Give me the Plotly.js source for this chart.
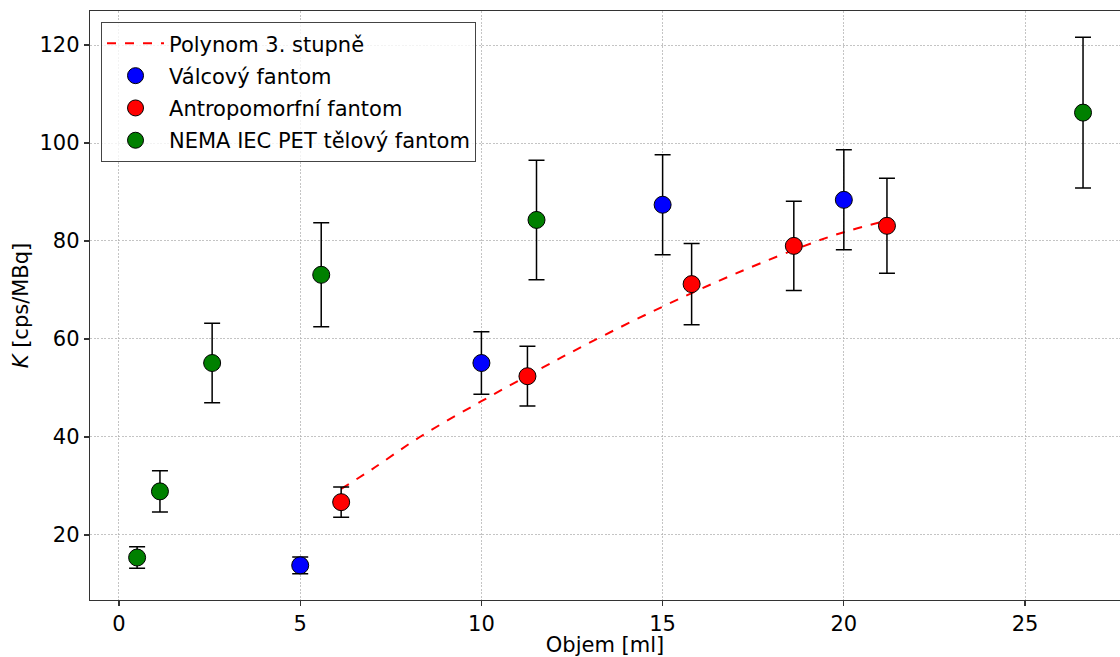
<!DOCTYPE html>
<html>
<head>
<meta charset="utf-8">
<script src="https://cdn.plot.ly/plotly-3.0.1.min.js"></script>
<style>html,body{margin:0;padding:0;background:#fff}#chart{width:1120px;height:657px}</style>
</head>
<body>
<div id="chart"></div>
<script>
// Polynom 3. stupně
const polyX = [6.13, 7.0, 8.3, 10.0, 11.6, 13.0, 15.0, 17.0, 19.2, 20.0, 21.19];
const polyY = [29.4, 33.5, 40.0, 47.3, 53.8, 59.3, 66.6, 73.3, 79.8, 81.8, 84.2];

// Válcový fantom
const valX = [5, 10, 15, 20];
const valY = [13.8, 55.1, 87.4, 88.4];
const valErr = [1.7, 6.4, 10.2, 10.2];

// Antropomorfní fantom
const antX = [6.13, 11.27, 15.8, 18.62, 21.19];
const antY = [26.7, 52.4, 71.2, 79.0, 83.1];
const antErr = [3.1, 6.1, 8.3, 9.1, 9.7];

// NEMA IEC PET tělový fantom
const nemaX = [0.5, 1.13, 2.57, 5.58, 11.52, 26.6];
const nemaY = [15.4, 28.9, 55.1, 73.1, 84.3, 106.2];
const nemaErr = [2.2, 4.2, 8.1, 10.6, 12.2, 15.4];

const xTicks = [0, 5, 10, 15, 20, 25];
const yTicks = [20, 40, 60, 80, 100, 120];

function pts(name, x, y, err, color, grp) {
  return {
    type: 'scatter', mode: 'markers', name: name, x: x, y: y,
    legendgroup: grp,
    marker: {color: color, size: 17, line: {color: '#000', width: 1}},
    error_y: {type: 'data', array: err, visible: true, color: '#000', thickness: 1.5, width: 8}
  };
}

const traces = [
  {type: 'scatter', mode: 'lines', name: 'Polynom 3. stupně', x: polyX, y: polyY,
   legendgroup: 'g0', line: {color: 'red', width: 2, dash: 'dash', shape: 'spline'}},
  pts('Válcový fantom', valX, valY, valErr, 'blue', 'g1'),
  pts('Antropomorfní fantom', antX, antY, antErr, 'red', 'g2'),
  pts('NEMA IEC PET tělový fantom', nemaX, nemaY, nemaErr, 'green', 'g3')
];

const axisCommon = {
  showline: true, linecolor: '#333', linewidth: 1.2, mirror: true,
  ticks: 'outside', ticklen: 5, tickwidth: 1.2, tickcolor: '#333',
  showgrid: true, gridcolor: '#b5b5b5', gridwidth: 0.8, griddash: '2px,1.5px',
  zeroline: false, tickfont: {size: 21, color: '#000'}
};

const layout = {
  width: 1120, height: 657,
  margin: {l: 90, r: 0, t: 11, b: 57},
  paper_bgcolor: '#fff', plot_bgcolor: '#fff',
  font: {family: 'DejaVu Sans', color: '#000'},
  showlegend: true,
  xaxis: Object.assign({}, axisCommon, {
    range: [-0.8, 27.62], tickvals: xTicks, ticktext: xTicks.map(String),
    title: {text: 'Objem [ml]', font: {size: 21}, standoff: 4}
  }),
  yaxis: Object.assign({}, axisCommon, {
    range: [6.73, 126.94], tickvals: yTicks, ticktext: yTicks.map(String),
    title: {text: '<i>K</i> [cps/MBq]', font: {size: 21}, standoff: 5}
  }),
  legend: {
    x: 0.0107, y: 0.981, xanchor: 'left', yanchor: 'top',
    bgcolor: 'rgba(255,255,255,0.8)', bordercolor: '#444', borderwidth: 1,
    font: {size: 21}, traceorder: 'grouped', tracegroupgap: 2, itemwidth: 57
  }
};

Plotly.newPlot('chart', traces, layout, {displayModeBar: false, staticPlot: true});
</script>
</body>
</html>
